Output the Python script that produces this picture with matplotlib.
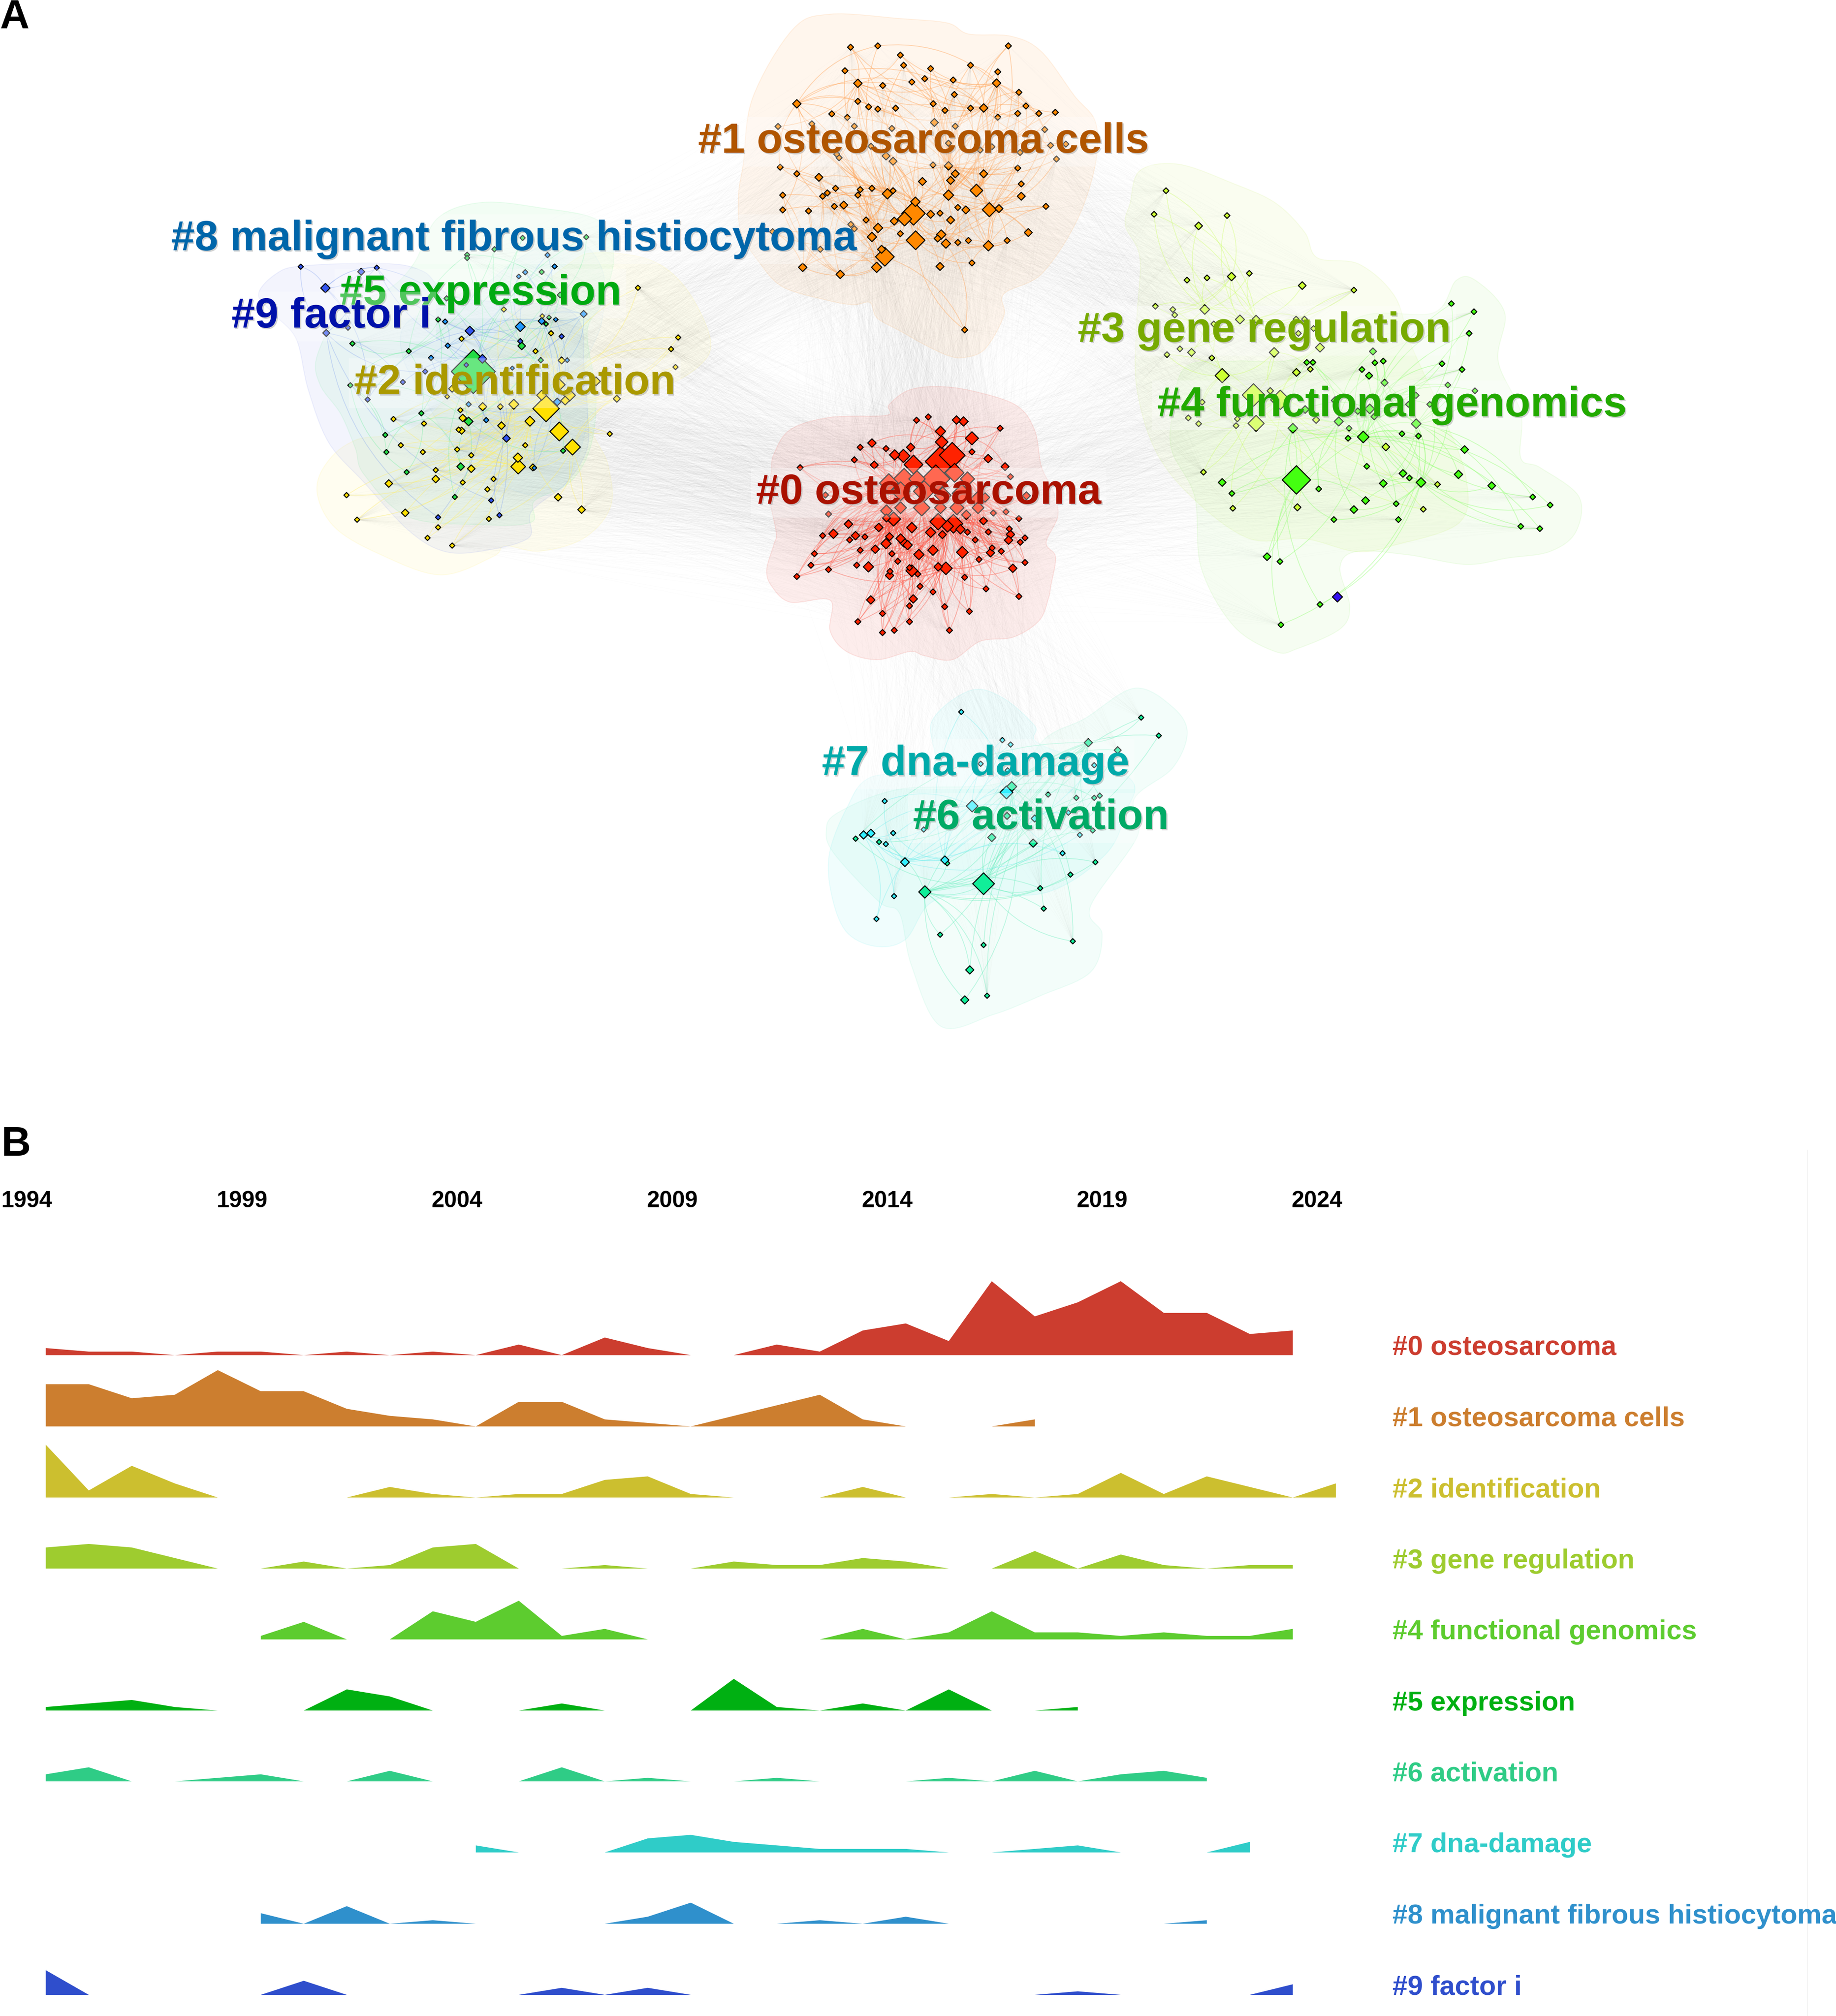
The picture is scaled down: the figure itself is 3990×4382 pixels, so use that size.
import numpy as np
import matplotlib
matplotlib.use('Agg')
import matplotlib.pyplot as plt
import matplotlib.patheffects as pe
from matplotlib.collections import LineCollection
from matplotlib.patches import PathPatch
from matplotlib.path import Path

plt.rcParams['font.family'] = ['Liberation Sans', 'DejaVu Sans']
W, H = 3991, 4382
n = np.nan

# ---- panel B: yearly counts, one row per cluster ----
years = list(range(1994, 2025))
tick_years = [1994, 1999, 2004, 2009, 2014, 2019, 2024]
row_labels = ['#0 osteosarcoma', '#1 osteosarcoma cells', '#2 identification', '#3 gene regulation',
              '#4 functional genomics', '#5 expression', '#6 activation', '#7 dna-damage',
              '#8 malignant fibrous histiocytoma', '#9 factor i']
row_colors = ['#CC3D2F', '#CC7E2F', '#CCBF2F', '#9ECC2F', '#5DCC2F', '#00B012', '#2FCC86', '#2FCCC8', '#2F90CC', '#2F4ECC']
row_base = [2945, 3100, 3254.5, 3409, 3563, 3717.5, 3871.5, 4026, 4181, 4335.5]

r0 = [2,1,1,0,1,1,0,1,0,1,0,3,0,5,2,0,0,3,1,7,9,4,21,11,15,21,12,12,6,7,n]
r1 = [12,12,8,9,16,10,10,5,3,2,0,7,7,2,1,0,3,6,9,2,0,0,0,2,n,n,n,n,n,n,n]
r2 = [15,2,9,4,0,0,0,0,3,1,0,1,1,5,6,1,0,0,0,3,0,0,1,0,1,7,1,6,3,0,4]
r3 = [6,7,6,3,0,0,2,0,1,6,7,0,0,1,0,0,2,1,1,3,2,0,0,5,0,4,1,0,1,1,n]
r4 = [n,n,n,n,n,1,5,0,0,8,5,11,1,3,0,0,0,0,0,3,0,2,8,2,2,1,2,1,1,3,n]
r5 = [1,2,3,1,0,0,0,6,4,0,0,0,2,0,0,0,9,1,0,2,0,6,0,0,1,n,n,n,n,n,n]
r6 = [2,4,0,0,1,2,0,0,3,0,0,0,4,0,1,0,0,1,0,0,0,1,0,3,0,2,3,1,n,n,n]
r7 = [n,n,n,n,n,n,n,n,n,n,2,0,0,0,4,5,3,2,1,1,1,0,0,1,2,0,0,0,3,n,n]
r8 = [n,n,n,n,n,3,0,5,0,1,0,0,0,0,2,6,0,0,1,0,2,0,0,0,0,0,0,1,n,n,n]
r9 = [7,0,0,0,0,0,4,0,0,0,0,0,2,0,2,0,0,0,0,0,0,0,0,0,1,0,0,0,0,3,n]
rows = [r0, r1, r2, r3, r4, r5, r6, r7, r8, r9]

# ---- panel A: nodes, (x, y, width) in crop units ----
crops = {'a': (600, 400, 1.568, 1.742), 'b': (1600, 800, 1.96, 2.24), 'c': (2400, 350, 1.4255, 1.4255),
         'd': (1700, 1450, 1.568, 1.96), 'e': (1600, 50, 1.96, 2.09)}

c0_nodes = [(768,254,26),(818,238,26),(1124,293,26),(528,386,26),(638,392,26),(503,447,26),(1004,408,26),(938,253,36),
    (968,260,40),(578,365,36),(743,386,36),(1073,441,36),(870,308,44),(875,360,54),(1004,342,56),(675,423,44),(712,428,56),
    (870,455,130),(920,425,110),(755,470,80),(272,485,26),(588,472,34),(1145,480,34),(1168,529,26),(1236,622,34),(380,618,26),
    (393,711,26),(1095,706,26),(1149,700,26),(715,540,90),(770,540,70),(850,540,120),(930,510,80),(985,540,60),(650,560,80),
    (700,600,80),(800,600,90),(880,620,70),(960,610,80),(1030,640,70),(640,695,50),(700,680,50),(790,680,70),(870,680,50),
    (1030,680,50),(940,680,60),(980,715,40),(1060,630,40),(670,735,60),(640,730,34),(860,748,70),(925,758,80),(900,770,50),
    (955,785,40),(1053,744,34),(1204,733,26),(478,760,36),(607,776,36),(748,777,44),(368,816,26),(414,807,40),(483,837,26),
    (508,816,36),(548,822,26),(653,821,34),(828,800,44),(878,811,34),(985,799,26),(1074,798,26),(1168,810,36),(1163,783,26),
    (1230,827,26),(1210,848,26),(1160,838,36),(1018,837,26),(700,830,40),(715,850,40),(730,862,40),(638,855,44),(333,904,26),
    (528,887,26),(592,882,36),(663,904,26),(838,887,44),(963,897,50),(1090,876,26),(1083,899,36),(1129,892,26),(778,908,44),
    (1034,932,26),(688,941,26),(318,960,26),(393,981,26),(513,960,26),(563,968,44),(860,968,36),(893,975,54),(748,987,50),
    (1178,975,36),(1230,947,26),(258,1015,26),(655,990,26),(653,1010,36),(738,972,26),(773,1003,26),(973,1019,26),(1064,1075,26),
    (783,1063,26),(838,1090,26),(1204,1112,26),(573,1129,36),(754,1124,36),(738,1158,26),(888,1162,26),(993,1185,26),(623,1195,26),
    (518,1235,26),(738,1235,26),(673,1277,26),(623,1288,26),(908,1277,26)]
c1_nodes = [(487,110,26),(603,104,26),(699,146,26),(713,192,26),(463,217,26),(828,207,26),(998,192,26),(1159,104,26),(1114,222,26),
    (924,259,26),(803,253,26),(748,268,26),(624,284,26),(518,356,26),(564,381,26),(603,391,26),(679,387,26),(839,367,26),(929,325,26),
    (889,397,26),(998,387,26),(1204,315,26),(1234,377,26),(518,274,36),(1109,273,36),(1054,386,36),(258,367,36),(407,413,26),(473,429,26),
    (178,470,26),(322,458,26),(503,469,26),(663,479,26),(844,452,34),(933,469,26),(1114,428,26),(1199,411,26),(1289,411,26),(1359,406,26),
    (1314,484,26),(1404,550,26),(1339,556,26),(1364,618,26),(1209,588,26),(1089,562,26),(1039,577,26),(904,546,26),(574,560,26),(638,604,34),
    (668,628,34),(438,612,26),(428,596,26),(187,655,26),(258,685,26),(352,701,34),(838,645,26),(904,649,36),(933,685,34),(1054,685,34),
    (1199,659,26),(913,715,34),(793,720,34),(1214,731,26),(1023,761,54),(904,782,44),(1214,787,34),(644,776,44),(668,762,26),(423,751,26),
    (578,751,26),(528,757,26),(518,782,26),(388,772,26),(368,787,26),(198,782,26),(458,827,34),(418,833,26),(198,849,26),(308,854,26),
    (1319,833,26),(944,838,26),(978,849,34),(1119,843,34),(1078,848,60),(763,812,40),(755,865,100),(717,890,60),(828,869,34),(868,864,26),
    (673,900,34),(553,895,26),(913,895,34),(604,931,40),(578,972,40),(699,957,26),(764,987,80),(873,961,40),(858,979,30),(893,1002,40),
    (944,997,26),(989,988,26),(1074,1012,44),(1154,988,26),(1244,952,34),(619,1028,34),(633,1062,80),(598,1110,44),(443,1142,36),(283,1110,36),
    (868,1106,34),(1004,1090,26),(973,1394,26),(488,915,26),(503,935,26),(155,948,26),(358,1028,26)]
c2_nodes = [(920,850,90),(965,937,64),(1010,996,54),(825,1070,50),(824,1036,32),(865,898,34),(810,834,34),(704,843,28),(764,843,20),
    (628,856,18),(636,886,26),(622,930,18),(632,934,24),(768,915,26),(504,907,18),(400,890,18),(425,989,18),(500,1015,18),(617,1005,18),
    (665,1027,18),(849,989,18),(544,1083,18),(665,1078,26),(544,1117,26),(384,1134,26),(636,1130,18),(741,1117,18),(720,1156,18),(240,1178,18),
    (440,1245,26),(276,1271,18),(552,1300,18),(516,1340,18),(600,1369,18),(725,1268,18),(961,1186,26),(1041,1233,26),(1137,946,18),(1161,813,24),
    (1346,625,18),(1361,693,18),(1370,581,18),(1233,393,18),(937,565,18),(884,633,18),(632,586,18),(776,475,18),(973,668,24),(907,500,16),
    (875,1073,24),(985,820,30),(1000,800,40),(965,760,40),(1090,747,30),(905,800,34),(583,805,16),(600,775,24)]
c3_nodes = [(191,92,18),(154,165,18),(380,169,18),(292,201,24),(256,369,18),(318,362,18),(394,358,26),(449,348,18),(613,386,24),(773,400,18),
    (158,450,18),(212,460,18),(218,477,18),(311,460,30),(420,491,28),(470,490,24),(339,505,18),(594,490,18),(620,490,18),(648,519,18),
    (601,534,18),(194,600,18),(234,582,18),(270,593,24),(333,610,18),(526,593,30),(668,578,28),(595,655,24),(365,665,44),(462,725,70),
    (545,740,60),(514,712,20),(303,747,18),(260,796,18),(292,814,18),(412,799,18),(408,820,18),(470,813,50),(656,802,22),(638,645,18),
    (872,886,24),(988,1079,18),(1032,1002,18),(598,1073,22),(398,1076,18),(307,964,18)]
c4_nodes = [(595,988,88),(802,855,36),(1075,442,18),(1145,467,18),(1130,534,18),(832,590,22),(798,646,18),(820,665,22),(838,625,18),(864,620,18),
    (868,687,22),(1046,628,18),(1108,646,18),(1064,694,18),(1148,712,18),(627,624,18),(646,624,18),(965,726,20),(942,754,18),(1008,754,18),
    (715,742,24),(822,768,30),(785,775,20),(726,807,28),(836,792,20),(966,814,30),(584,828,30),(758,828,18),(755,859,18),(922,845,18),
    (973,852,18),(1116,894,24),(813,946,18),(925,968,24),(945,982,18),(981,996,30),(864,999,24),(1097,971,26),(1200,1006,24),(1327,1041,18),
    (1381,1066,18),(1290,1132,18),(1349,1139,18),(664,1016,18),(809,1052,24),(773,1080,24),(711,1111,18),(904,1062,18),(911,1111,18),(365,996,24),
    (395,1030,18),(504,1226,24),(544,1241,18),(668,1374,18),(547,1437,18),(622,770,24)]
c5_nodes = [(672,710,150),(656,899,30),(837,613,26),(260,604,18),(452,633,18),(253,762,18),(495,868,18),(372,950,18),(376,1015,18),(445,1091,18),
    (629,1070,26),(609,1185,18),(978,1010,18),(552,513,18),(930,505,16),(920,530,16),(902,667,18),(840,204,18),(1057,201,18),(744,247,18),
    (651,268,18),(651,280,18),(905,333,18),(968,420,20),(581,433,18)]
c6_nodes = [(1223,215,18),(1283,292,18),(1043,322,28),(1143,354,24),(782,509,34),(906,543,18),(1002,557,18),(1063,557,18),(1082,548,18),(766,634,24),
    (1058,696,18),(714,726,28),(855,750,28),(250,731,18),(330,745,18),(1067,831,18),(562,836,18),(982,884,18),(879,942,18),(891,1029,18),
    (686,923,74),(486,958,42),(538,1140,18),(686,1184,18),(990,1168,18),(639,1290,28),(622,1418,28),(698,1400,18)]
c7_nodes = [(610,191,18),(750,311,18),(778,330,18),(764,534,44),(647,592,40),(349,571,18),(277,715,28),(302,708,28),(378,707,18),(353,754,18),
    (418,831,30),(554,822,28),(381,976,18),(321,1073,18),(955,793,18),(1063,418,18),(676,412,18),(768,440,18),(860,645,24),(482,692,18),
    (975,620,18),(1014,715,18)]
c8_nodes = [(832,540,34),(905,519,24),(1048,492,24),(953,513,16),(576,521,18),(585,612,18),(528,658,18),(716,894,18),(656,834,18),(958,825,26),
    (925,269,18),(949,312,18),(849,334,18),(827,350,16),(992,667,16),(805,697,14),(880,1075,16)]
c9_nodes = [(84,313,18),(290,332,24),(343,317,18),(168,394,32),(171,564,24),(245,544,18),(660,556,32),(832,595,18),(973,577,18),(703,662,30),
    (648,685,16),(508,710,18),(432,750,18),(312,816,18),(785,963,26),(733,1198,18),(761,1254,18),(552,1262,18)]

node_sets = [c0_nodes, c1_nodes, c2_nodes, c3_nodes, c4_nodes, c5_nodes, c6_nodes, c7_nodes, c8_nodes, c9_nodes]
node_crop = ['b', 'e', 'a', 'c', 'c', 'a', 'd', 'd', 'a', 'a']
node_colors = ['#FF2200', '#FF8800', '#FFE000', '#CCFF33', '#44FF11', '#22DD44', '#11EE99', '#33EEFF', '#2299FF', '#3355EE']
link_colors = ['#FF5544', '#FFA050', '#FFEE66', '#CCFF66', '#88FF66', '#66EE99', '#66EEBB', '#77EEEE', '#77AAEE', '#7799EE']
link_setup = [(4, 28), (3, 22), (2, 9), (2, 10), (2, 7), (2, 8), (2, 4), (2, 5), (2, 6), (2, 7)]
link_alpha = [.40, .40, .38, .38, .38, .32, .38, .38, .30, .30]

# hull outlines, same crop units
hull_0 = [(160,420),(230,300),(400,240),(640,230),(650,180),(730,110),(850,90),(1000,110),(1190,180),(1270,300),(1300,480),(1350,600),(1370,720),
    (1320,850),(1360,920),(1340,1060),(1330,1120),(1290,1230),(1180,1310),(1040,1330),(920,1420),(800,1400),(740,1380),(600,1420),(470,1380),
    (400,1280),(400,1130),(230,1140),(150,1060),(130,980),(160,860),(170,800),(140,620),(150,500)]
hull_1 = [(70,340),(240,30),(400,-40),(700,-20),(900,0),(990,50),(1170,60),(1300,130),(1440,330),(1530,450),(1530,640),(1450,900),(1300,1140),
    (1140,1230),(1140,1330),(1060,1480),(970,1520),(900,1510),(800,1460),(700,1400),(600,1340),(570,1270),(500,1280),(390,1260),(200,1200),
    (100,1090),(20,950),(10,780),(30,640)]
hull_2 = [(170,1060),(140,1170),(200,1300),(350,1400),(560,1480),(740,1410),(780,1370),(900,1390),(1050,1340),(1140,1220),(1130,1060),(1070,870),
    (1300,780),(1440,690),(1480,590),(1400,400),(1280,290),(1100,260),(1000,300),(800,500),(500,900),(270,970)]
hull_3 = [(80,130),(110,30),(230,10),(400,70),(530,130),(620,220),(660,300),(790,320),(900,420),(950,570),(1050,790),(1120,980),(1100,1120),
    (900,1190),(780,1210),(620,1170),(450,1170),(280,1050),(160,900),(100,700),(100,500),(110,300),(65,200)]
hull_4 = [(210,790),(250,640),(400,620),(600,610),(800,480),(1020,470),(1090,370),(1150,370),(1240,470),(1220,620),(1290,780),(1290,920),(1350,950),
    (1470,1040),(1460,1150),(1380,1210),(1250,1230),(1120,1250),(940,1220),(780,1210),(730,1260),(760,1380),(730,1450),(600,1510),(530,1520),
    (400,1440),(300,1260),(280,1040),(210,900)]
hull_5 = [(140,650),(230,470),(380,400),(470,300),(550,130),(700,70),(900,90),(1100,140),(1150,280),(1110,450),(1060,560),(1090,800),(1070,1000),
    (1000,1130),(880,1200),(870,1280),(700,1290),(450,1260),(300,1100),(270,1000),(220,870),(150,760)]
hull_6 = [(150,700),(190,620),(400,520),(750,490),(900,300),(1030,220),(1200,90),(1330,170),(1380,280),(1330,430),(1200,560),(1210,720),(1050,1020),
    (1090,1140),(1050,1300),(880,1400),(720,1480),(540,1530),(440,1270),(400,1050),(330,1000),(180,800)]
hull_7 = [(160,800),(220,600),(300,470),(510,430),(510,230),(640,100),(750,130),(860,250),(880,330),(1180,470),(1170,620),(1100,800),(900,960),
    (620,970),(500,1010),(420,1160),(320,1190),(220,1130),(170,980)]
hull_8 = [(430,650),(450,520),(650,430),(830,280),(1000,200),(1110,320),(1110,520),(1050,700),(1060,900),(990,1130),(880,1180),(700,1100),(600,990),(500,800)]
hull_9 = [(0,340),(90,310),(360,300),(500,330),(620,430),(1000,480),(1050,700),(1060,850),(1060,1000),(990,1130),(870,1240),(860,1340),(700,1390),
    (570,1390),(450,1310),(300,1130),(180,980),(110,780),(70,590),(0,500),(-60,420)]
hulls = [hull_0, hull_1, hull_2, hull_3, hull_4, hull_5, hull_6, hull_7, hull_8, hull_9]
hull_colors = ['#F06055', '#FFA040', '#FFF060', '#C8F060', '#90F060', '#70F090', '#70F0C0', '#70F0F0', '#80C0F0', '#8090F0']
hull_alpha = [.11, .09, .09, .09, .08, .09, .08, .10, .05, .09]

big_labels = ['#0 osteosarcoma', '#1 osteosarcoma cells', '#2 identification', '#3 gene regulation', '#4 functional genomics',
              '#5 expression', '#6 activation', '#7 dna-damage', '#8 malignant fibrous histiocytoma', '#9 factor i']
big_x = [1643, 1517, 769, 2342, 2515, 738, 1984, 1786, 372, 503]
big_y = [1095, 332, 857, 743, 905, 662, 1802, 1685, 544, 712]
big_colors = ['#AA1100', '#B05500', '#AA9900', '#77AA00', '#22AA00', '#00AA11', '#00AA66', '#00AAAA', '#0066AA', '#0011AA']


def from_crop(pts, key):
    x0, y0, sx, sy = crops[key]
    a = np.array(pts, dtype=float)
    return x0 + a[:, 0] / sx, y0 + a[:, 1] / sy


def smooth_hull(px, py):
    # closed catmull-rom through the read outline
    pts = np.column_stack([px, py])
    verts, codes = [pts[0]], [Path.MOVETO]
    m = len(pts)
    for i in range(m):
        p0, p1, p2, p3 = pts[i - 1], pts[i], pts[(i + 1) % m], pts[(i + 2) % m]
        verts += [p1 + (p2 - p0) / 6, p2 - (p3 - p1) / 6, p2]
        codes += [Path.CURVE4] * 3
    return Path(verts, codes)


def arc(a, b, bend):
    # quadratic curve from a to b
    mid = (a + b) / 2
    d = b - a
    ctrl = mid + bend * np.array([-d[1], d[0]])
    t = np.linspace(0, 1, 14)[:, None]
    return (1 - t) ** 2 * a + 2 * t * (1 - t) * ctrl + t ** 2 * b


fig = plt.figure(figsize=(W / 100, H / 100), dpi=100, facecolor='white')
ax = fig.add_axes([0, 0, 1, 1])
ax.set_xlim(0, W)
ax.set_ylim(H, 0)
ax.axis('off')

xy = []
sizes = []
for nodes, key in zip(node_sets, node_crop):
    x, y = from_crop(nodes, key)
    xy.append(np.column_stack([x, y]))
    sizes.append(np.array(nodes, dtype=float)[:, 2] / crops[key][2])

# the blue node sitting alone in cluster 4
lone_x, lone_y = from_crop([(722, 1350)], 'c')

# faint links between clusters
cross_pairs = [(0, 2), (0, 1), (0, 3), (0, 4), (0, 6), (0, 7), (1, 2), (1, 5), (1, 3), (2, 0), (5, 0), (3, 1), (8, 0)]
segs = []
for a, b in cross_pairs:
    for i in range(len(xy[a])):
        for j in range(0, len(xy[b]), 3):
            if (i * 7 + j) % 4 == 0:
                segs.append(arc(xy[a][i], xy[b][j], 0.03 if (i + j) % 2 else -0.03))
ax.add_collection(LineCollection(segs, colors=[(.5, .5, .5, .018)], linewidths=0.8, zorder=1))

for k in range(10):
    hx, hy = from_crop(hulls[k], node_crop[k])
    ax.add_patch(PathPatch(smooth_hull(hx, hy), facecolor=matplotlib.colors.to_rgba(hull_colors[k], hull_alpha[k]),
                           edgecolor=matplotlib.colors.to_rgba(hull_colors[k], hull_alpha[k] + .03), lw=1.5, zorder=2 + k * 0.01))

# links inside each cluster, nodes tied to their nearby big nodes
for k in range(10):
    per_node, n_hubs = link_setup[k]
    pts, sz = xy[k], sizes[k]
    hubs = np.argsort(-sz)[:n_hubs]
    segs = []
    for i in range(len(pts)):
        dist = np.hypot(*(pts[hubs] - pts[i]).T)
        near = hubs[np.argsort(dist)]
        for j in range(per_node):
            h = near[(j * 2 + i % 2) % len(near)]
            if h != i:
                segs.append(arc(pts[i], pts[h], 0.22 if (i + j) % 2 else -0.22))
    ax.add_collection(LineCollection(segs, colors=[matplotlib.colors.to_rgba(link_colors[k], link_alpha[k])], linewidths=1.3, zorder=3))

# nodes, big ones underneath
for k in range(10):
    order = np.argsort(-sizes[k])
    s = (sizes[k][order] / np.sqrt(2) * 0.72) ** 2
    ax.scatter(xy[k][order, 0], xy[k][order, 1], s=s, marker='D', c=node_colors[k], edgecolors='black', linewidths=1.6, zorder=4)
ax.scatter(lone_x, lone_y, s=(22 / np.sqrt(2) * 0.72) ** 2, marker='D', c='#3311EE', edgecolors='black', linewidths=1.6, zorder=4)

for t, x, y, c in zip(big_labels, big_x, big_y, big_colors):
    ax.text(x, y, t, color=c, fontsize=66.1, fontweight='bold', va='baseline', ha='left', zorder=6,
            bbox=dict(boxstyle='square,pad=0.12', fc=(1, 1, 1, .32), ec='none'),
            path_effects=[pe.withSimplePatchShadow(offset=(2, -2), shadow_rgbFace='#999999', alpha=.45)])

ax.text(0, 63, 'A', fontsize=64, fontweight='bold', color='black', va='baseline', ha='left')
ax.text(3, 2512, 'B', fontsize=64, fontweight='bold', color='black', va='baseline', ha='left')
ax.plot([3928, 3928], [2500, H], color='#F2F2F2', lw=1.2)

# panel B ribbons
left, right = 99, 2902.5
for k in range(10):
    rax = fig.add_axes([left / W, 1 - row_base[k] / H, (right - left) / W, 22 * 7.65 / H])
    rax.patch.set_alpha(0)
    rax.set_xlim(years[0], years[-1])
    rax.set_ylim(0, 22)
    rax.axis('off')
    rax.fill_between(years, rows[k], 0, color=row_colors[k], lw=0)
    rax.annotate(row_labels[k], xy=(years[-1], 0), xytext=(88.8, 0), textcoords='offset points',
                 color=row_colors[k], fontsize=42.8, fontweight='bold', va='baseline', ha='left', annotation_clip=False)
    if k == 0:
        for yr in tick_years:
            rax.annotate(str(yr), xy=(yr, 0), xytext=(-29, (row_base[0] - 2624.5) * 0.72), textcoords='offset points',
                         fontsize=36, fontweight='bold', color='black', ha='center', va='baseline', annotation_clip=False)

fig.savefig('out.png', dpi=100, facecolor='white')
